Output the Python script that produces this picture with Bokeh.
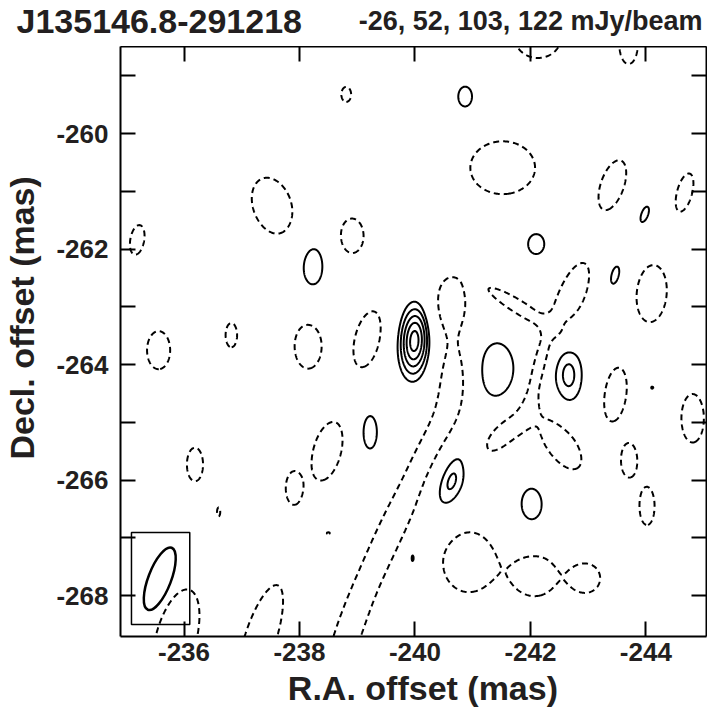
import numpy as np
from bokeh.plotting import figure
from bokeh.layouts import column
from bokeh.models import Range1d, LinearAxis, FixedTicker
from bokeh.core.properties import value
from bokeh.embed import file_html
from bokeh.resources import INLINE

# ---------------- data ----------------
title_text = "J135146.8-291218"
levels_text = "-26, 52, 103, 122 mJy/beam"
x_label = "R.A. offset (mas)"
y_label = "Decl. offset (mas)"

ra_range = [-234.90, -245.05]
dec_range = [-268.71, -258.49]
ra_ticks = [-236, -238, -240, -242, -244]
dec_ticks = [-260, -262, -264, -266, -268]
dec_minor_ticks = [-259, -261, -263, -265, -267]

neg_levels = [-26.0]
pos_levels = [26.0, 36.8, 52.0, 73.5, 103.0]

# brightness components (mJy/beam): RA, Dec offset (mas), peak, sigma across, sigma along (mas), tilt (deg)
comp_ra = [-238.81, -237.53, -238.91, -238.23, -235.19, -235.56, -236.82, -238.15, -239.18,
           -239.99, -239.99, -242.13, -243.70, -240.87, -241.52, -243.42, -244.67, -243.98,
           -242.10, -243.47, -244.10, -240.61,
           -241.78, -242.73, -242.14, -241.57, -242.52,
           -241.42, -242.66, -243.47, -244.11, -244.81, -243.71, -244.02, -240.64, -242.02,
           -239.96, -240.93, -242.08, -242.96,
           -240.65, -240.632, -240.442, -240.13, -239.835, -239.576, -239.333, -239.07, -238.866, -238.675,
           -236.19, -236.60, -238.48, -237.90, -239.22, -238.50, -237.32, -235.86]
comp_dec = [-259.32, -261.25, -261.77, -262.29, -261.84, -263.75, -263.49, -263.68, -263.56,
            -263.59, -263.59, -258.30, -258.45, -259.36, -260.59, -260.89, -261.02, -261.40,
            -261.91, -262.45, -262.77, -262.95,
            -263.00, -262.78, -264.06, -265.15, -265.36,
            -264.09, -264.18, -264.52, -264.40, -264.93, -265.66, -266.45, -266.01, -266.42,
            -267.35, -267.42, -267.66, -267.70,
            -264.04, -264.459, -265.066, -265.67, -266.35, -266.885, -267.44, -268.03, -268.60, -269.14,
            -265.73, -266.55, -265.50, -266.14, -265.17, -266.92, -268.75, -268.75]
comp_peak = [-50, -50, -50, 35, -50, -50, -50, -50, -50,
             70, 52, -50, -50, 35, -50, -50, -50, 30,
             35, 30, -50, -50,
             -50, -50, -50, -50, -50,
             35, 40, -50, 28, -50, -50, -50, 40, 35,
             30, -50, -47, -47,
             -28, -28, -28, -28, -28, -28, -28, -28, -28, -28,
             -50, -28, -50, -50, 35, -28, -50, -50]
comp_sig_a = [0.074, 0.29, 0.175, 0.22, 0.105, 0.175, 0.087, 0.205, 0.192,
              0.10, 0.245, 0.36, 0.14, 0.156, 0.49, 0.175, 0.114, 0.112,
              0.182, 0.14, 0.227, 0.236,
              0.114, 0.19, 0.114, 0.175, 0.22,
              0.376, 0.247, 0.166, 0.05, 0.17, 0.122, 0.114, 0.215, 0.227,
              0.065, 0.39, 0.33, 0.227,
              0.19, 0.19, 0.19, 0.19, 0.19, 0.19, 0.19, 0.19, 0.19, 0.19,
              0.122, 0.065, 0.21, 0.118, 0.156, 0.065, 0.236, 0.306]
comp_sig_b = [0.114, 0.44, 0.262, 0.428, 0.227, 0.288, 0.184, 0.341, 0.437,
              0.24, 0.588, 0.34, 0.30, 0.227, 0.40, 0.393, 0.297, 0.271,
              0.227, 0.323, 0.433, 0.40,
              0.54, 0.50, 0.58, 0.43, 0.46,
              0.597, 0.49, 0.41, 0.05, 0.367, 0.258, 0.288, 0.485, 0.35,
              0.187, 0.455, 0.32, 0.227,
              0.45, 0.45, 0.45, 0.45, 0.45, 0.45, 0.45, 0.45, 0.45, 0.45,
              0.254, 0.18, 0.455, 0.24, 0.37, 0.04, 0.852, 0.77]
comp_tilt = [0, -20, 0, 0, 10, 0, 0, 0, 14,
             3, 3, 0, 0, 0, 0, 19, 15, 20,
             0, 15, 5, 0,
             -58, 21, 15, 45, -35,
             0, 0, 8, 0, 0, 0, 0, 18, 0,
             0, 0, 0, 0,
             1, 9, 22, 25, 25, 25, 24, 22, 20, 19.5,
             0, 0, 15, 0, 0, 0, 18, 15]

# restoring beam and its box
beam_ra = -235.58
beam_dec = -267.71
beam_major = 1.15
beam_minor = 0.395
beam_pa = -21.0
box_ra = [-235.09, -236.10]
box_dec = [-266.91, -268.50]

# ---------------- map ----------------
gx = np.arange(-245.3, -234.7, 0.0125)
gy = np.arange(-269.0, -258.2, 0.0125)
GX, GY = np.meshgrid(gx, gy)
Z = np.zeros_like(GX)
for ra, dec, pk, sa, sb, tl in zip(comp_ra, comp_dec, comp_peak, comp_sig_a, comp_sig_b, comp_tilt):
    t = np.deg2rad(tl)
    u = -(GX - ra)
    v = GY - dec
    up = u * np.cos(t) - v * np.sin(t)
    vp = u * np.sin(t) + v * np.cos(t)
    Z += pk * np.exp(-0.5 * ((up / sa) ** 2 + (vp / sb) ** 2))

FONT = "Liberation Sans"
INK = "#231f20"
NB = "\u00a0"

# ---- title strip ----
head = figure(width=707, height=46, x_range=Range1d(0, 707), y_range=Range1d(0, 46),
              output_backend="svg", toolbar_location=None,
              x_axis_location=None, y_axis_location=None, title_location=None,
              min_border=0, min_border_left=0, min_border_right=0,
              min_border_top=0, min_border_bottom=0)
head.grid.visible = False
head.outline_line_color = None
head.text(x=[16], y=[13], text=[title_text], text_font=value(FONT), text_font_style="bold",
          text_font_size="34px", text_color=INK, text_baseline="alphabetic", text_align="left",
          y_offset=-13)
head.text(x=[702], y=[13], text=[levels_text], text_font=value(FONT), text_font_style="bold",
          text_font_size="27px", text_color=INK, text_baseline="alphabetic", text_align="right",
          y_offset=-13)

# ---- map ----
p = figure(width=707, height=668,
           x_range=Range1d(ra_range[0], ra_range[1]),
           y_range=Range1d(dec_range[0], dec_range[1]),
           output_backend="svg", toolbar_location=None,
           min_border_left=120, min_border_right=1,
           min_border_top=0, min_border_bottom=78)
p.grid.visible = False
p.outline_line_color = None

for fig in (head, p):
    if "frame_align" in fig.properties():
        fig.frame_align = False

p.contour(x=gx, y=gy, z=Z, levels=neg_levels, line_color="black", line_width=2, line_dash="6 4")
p.contour(x=gx, y=gy, z=Z, levels=pos_levels, line_color="black", line_width=2)

p.ellipse(x=[beam_ra], y=[beam_dec], width=[beam_minor], height=[beam_major],
          angle=[np.deg2rad(beam_pa)], fill_color=None, line_color="black", line_width=2.5)
p.quad(left=[box_ra[0]], right=[box_ra[1]], top=[box_dec[0]], bottom=[box_dec[1]],
       fill_color=None, line_color="black", line_width=1.5)


def style(ax, labels):
    ax.axis_line_width = 2
    ax.axis_line_color = "black"
    ax.major_tick_in = 15
    ax.major_tick_out = 0
    ax.minor_tick_in = 15
    ax.minor_tick_out = 0
    ax.major_tick_line_width = 2
    ax.minor_tick_line_width = 2
    ax.major_tick_line_color = "black"
    ax.minor_tick_line_color = "black"
    if labels:
        ax.major_label_text_font = FONT
        ax.major_label_text_font_style = "bold"
        ax.major_label_text_font_size = "26px"
        ax.major_label_text_color = INK
        ax.axis_label_text_font = FONT
        ax.axis_label_text_font_style = "bold"
        ax.axis_label_text_font_size = "34px"
        ax.axis_label_text_color = INK
    else:
        ax.major_label_text_font_size = "0px"
        ax.major_label_standoff = 0
        ax.major_label_text_alpha = 0


p.xaxis[0].ticker = FixedTicker(ticks=ra_ticks, minor_ticks=[])
p.yaxis[0].ticker = FixedTicker(ticks=dec_ticks, minor_ticks=dec_minor_ticks)
p.xaxis[0].major_label_overrides = {t: str(t) for t in ra_ticks}
p.yaxis[0].major_label_overrides = {t: str(t) for t in dec_ticks}
style(p.xaxis[0], True)
style(p.yaxis[0], True)
p.xaxis[0].axis_label = NB * 2 + x_label
p.yaxis[0].axis_label = NB * 5 + y_label
p.xaxis[0].major_label_standoff = 6
p.xaxis[0].axis_label_standoff = 5
p.yaxis[0].major_label_standoff = 12
p.yaxis[0].axis_label_standoff = 12

top_ax = LinearAxis(ticker=FixedTicker(ticks=ra_ticks, minor_ticks=[]))
style(top_ax, False)
p.add_layout(top_ax, "above")
right_ax = LinearAxis(ticker=FixedTicker(ticks=dec_ticks, minor_ticks=dec_minor_ticks))
style(right_ax, False)
p.add_layout(right_ax, "right")

layout = column(head, p, spacing=0)
open("out.html", "w").write(file_html(layout, INLINE))
